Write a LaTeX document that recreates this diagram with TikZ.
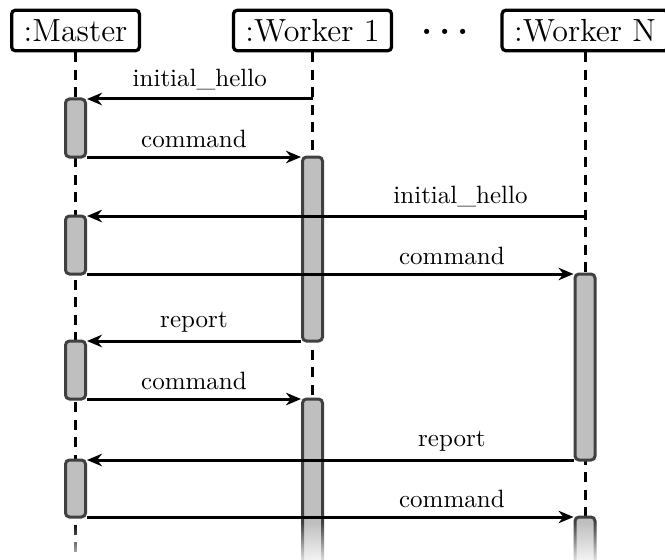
\documentclass[tikz,border=0pt]{standalone}
\usetikzlibrary{arrows.meta,fadings}
\tikzfading[name=fadedown, top color=transparent!100, bottom color=transparent!0]
\definecolor{barfill}{HTML}{BFBFBF}
\definecolor{barline}{HTML}{404040}
% activation bar: name, x, top y, bottom y
\newcommand\actbar[4]{\node[actbox, minimum height={(#4-#3)*0.4pt}] (#1) at (#2,{(#3+#4)/2}) {};}
\begin{document}
\begin{tikzpicture}[x=0.4pt,y=-0.4pt,
  header/.style={draw, line width=1.3pt, rounded corners=1.5pt, fill=white,
    inner xsep=4.8pt, minimum height=16.2pt, font=\fontsize{12.8}{15}\selectfont},
  lifeline/.style={line width=1.2pt, dash pattern=on 4pt off 3pt},
  actbox/.style={draw=barline, fill=barfill, line width=1.2pt,
    rounded corners=1.6pt, minimum width=8pt, inner sep=0pt,
    outer xsep=0.6pt, outer ysep=0pt},
  msg/.style={line width=1.2pt, -{Stealth[length=6pt,width=5pt]}},
  lbl/.style={font=\normalsize, inner sep=3pt}
]
\useasboundingbox (0,0) rectangle (665,559);

% participants
\node[header] (m)  at (75.5,30.5) {:Master};
\node[header] (w1) at (312.5,30.5) {:Worker 1};
\node[header] (wn) at (585,30.5) {:Worker N};
\node[font=\Large\bfseries, inner sep=0pt] (dots) at (445,32) {.\kern2.8pt.\kern2.8pt.};

% lifelines
\coordinate (mend)  at (75.5,600);
\coordinate (w1end) at (312.5,600);
\coordinate (wnend) at (585,600);
\draw[lifeline] (m.south) -- (mend);
\draw[lifeline] (w1.south) -- (w1end);
\draw[lifeline] (wn.south) -- (wnend);

% activation bars
\actbar{mb1}{75.5}{99}{157}
\actbar{mb2}{75.5}{216}{274}
\actbar{mb3}{75.5}{341}{399}
\actbar{mb4}{75.5}{460}{517}
\actbar{wb1}{312.5}{157}{341}
\actbar{wb2}{312.5}{399}{620}
\actbar{wnb1}{585}{274}{460}
\actbar{wnb2}{585}{517}{620}

% messages
\draw[msg] (w1.south |- mb1.north east) -- node[lbl,above] {initial\_hello} (mb1.north east);
\draw[msg] (mb1.south east) -- node[lbl,above] {command} (wb1.north west);
\draw[msg] (wn.south |- mb2.north east) -- node[lbl,above,pos=0.25] {initial\_hello} (mb2.north east);
\draw[msg] (mb2.south east) -- node[lbl,above,pos=0.75] {command} (wnb1.north west);
\draw[msg] (wb1.south west) -- node[lbl,above] {report} (mb3.north east);
\draw[msg] (mb3.south east) -- node[lbl,above] {command} (wb2.north west);
\draw[msg] (wnb1.south west) -- node[lbl,above,pos=0.25] {report} (mb4.north east);
\draw[msg] (mb4.south east) -- node[lbl,above,pos=0.75] {command} (wnb2.north west);

% everything continues downwards and fades out
\fill[white, path fading=fadedown] (-5,522) rectangle (670,568);
\end{tikzpicture}
\end{document}
